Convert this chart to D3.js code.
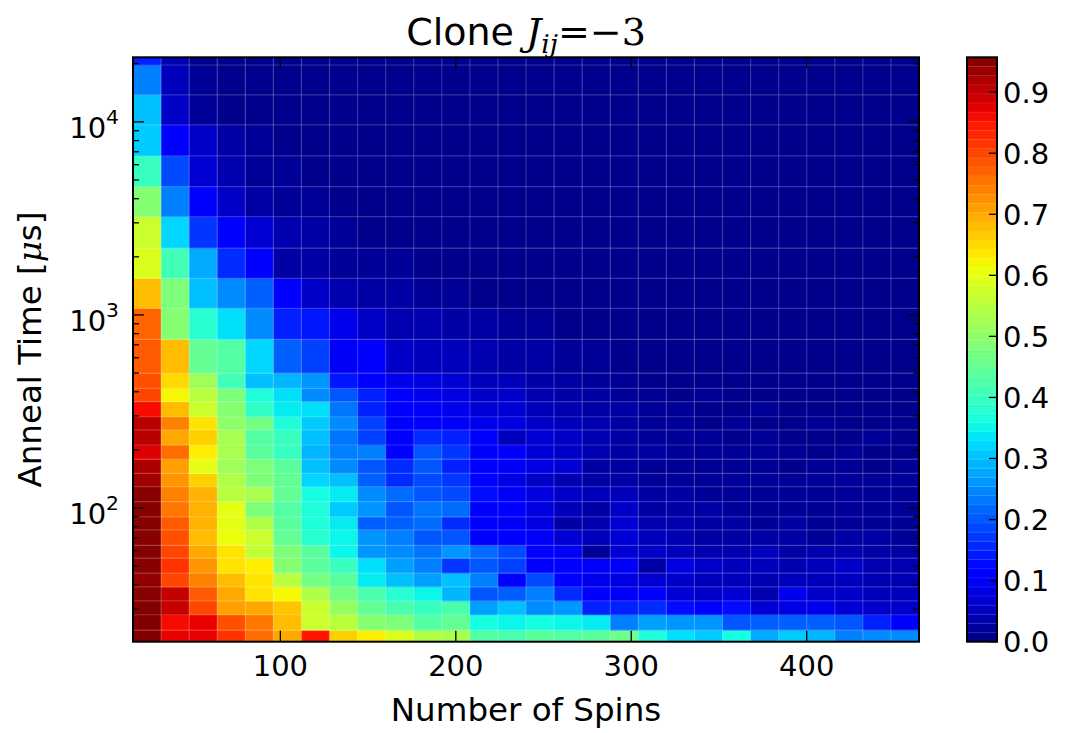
<!DOCTYPE html>
<html>
<head>
<meta charset="utf-8">
<script src="https://cdn.jsdelivr.net/npm/d3@7"></script>
<style>
  body { margin: 0; background: #ffffff; }
  svg { display: block; }
  text { font-family: "DejaVu Sans", sans-serif; fill: #000; }
</style>
</head>
<body>
<svg id="chart" width="1066" height="733"></svg>
<script>
// Column centres: number of spins
const spins = [24, 40, 56, 72, 88, 104, 120, 136, 152, 168, 184, 200, 216, 232,
               248, 264, 280, 296, 312, 328, 344, 360, 376, 392, 408, 424, 440, 456];

// Row boundaries: anneal time in microseconds (bottom to top)
const annealEdges = [20.3, 23.3, 28, 33, 39, 46, 55, 64, 77, 90, 108, 129, 151, 179,
                     212, 254, 297, 356, 417, 499, 748, 1083, 1549, 2218, 3227, 4625,
                     6670, 9640, 13800, 19700, 21600];

// Success fraction, one row per anneal-time band (bottom to top), one value per spin count
const fraction = [
  [0.955,0.87,0.87,0.82,0.76,0.70,0.85,0.66,0.63,0.59,0.54,0.53,0.43,0.42,0.44,0.43,0.44,0.46,0.37,0.33,0.31,0.36,0.28,0.31,0.29,0.24,0.25,0.25],
  [0.955,0.86,0.87,0.79,0.75,0.68,0.57,0.55,0.49,0.48,0.43,0.45,0.36,0.35,0.36,0.35,0.34,0.24,0.27,0.26,0.26,0.20,0.21,0.21,0.21,0.20,0.15,0.12],
  [0.955,0.90,0.80,0.71,0.70,0.67,0.57,0.51,0.45,0.42,0.40,0.42,0.27,0.30,0.25,0.26,0.15,0.15,0.16,0.13,0.12,0.13,0.07,0.08,0.09,0.07,0.06,0.06],
  [0.95,0.90,0.78,0.70,0.64,0.62,0.54,0.47,0.42,0.38,0.35,0.29,0.20,0.21,0.24,0.16,0.12,0.10,0.11,0.07,0.06,0.07,0.04,0.09,0.06,0.06,0.05,0.05],
  [0.94,0.80,0.74,0.68,0.64,0.55,0.47,0.44,0.34,0.30,0.27,0.30,0.24,0.12,0.19,0.12,0.09,0.08,0.07,0.06,0.05,0.05,0.04,0.05,0.05,0.05,0.04,0.04],
  [0.95,0.82,0.72,0.64,0.63,0.49,0.44,0.40,0.33,0.27,0.24,0.17,0.20,0.18,0.12,0.12,0.10,0.10,0.03,0.08,0.06,0.05,0.05,0.04,0.05,0.06,0.04,0.04],
  [0.955,0.80,0.70,0.64,0.56,0.48,0.44,0.35,0.26,0.25,0.23,0.26,0.22,0.19,0.12,0.10,0.02,0.07,0.06,0.05,0.04,0.04,0.05,0.03,0.04,0.04,0.03,0.03],
  [0.95,0.79,0.68,0.61,0.57,0.45,0.38,0.35,0.26,0.24,0.20,0.20,0.12,0.12,0.10,0.07,0.05,0.07,0.05,0.04,0.03,0.03,0.03,0.03,0.02,0.03,0.03,0.02],
  [0.95,0.78,0.69,0.60,0.54,0.44,0.37,0.34,0.21,0.21,0.22,0.16,0.12,0.10,0.08,0.03,0.04,0.07,0.04,0.04,0.03,0.03,0.02,0.03,0.02,0.02,0.02,0.02],
  [0.95,0.75,0.69,0.60,0.48,0.43,0.37,0.31,0.26,0.20,0.23,0.22,0.12,0.12,0.08,0.05,0.03,0.06,0.03,0.03,0.03,0.02,0.02,0.02,0.02,0.02,0.02,0.02],
  [0.95,0.74,0.69,0.55,0.53,0.45,0.36,0.34,0.25,0.22,0.20,0.19,0.13,0.10,0.08,0.06,0.05,0.05,0.03,0.03,0.02,0.02,0.02,0.02,0.02,0.02,0.02,0.02],
  [0.93,0.72,0.66,0.54,0.48,0.45,0.32,0.30,0.21,0.16,0.19,0.17,0.12,0.08,0.06,0.04,0.03,0.03,0.02,0.02,0.02,0.02,0.02,0.02,0.02,0.02,0.02,0.02],
  [0.92,0.71,0.60,0.52,0.48,0.44,0.30,0.25,0.20,0.16,0.20,0.15,0.11,0.10,0.08,0.07,0.03,0.03,0.02,0.02,0.02,0.02,0.02,0.01,0.02,0.02,0.01,0.02],
  [0.88,0.76,0.63,0.53,0.44,0.40,0.29,0.24,0.24,0.12,0.20,0.17,0.11,0.12,0.07,0.06,0.04,0.03,0.03,0.02,0.02,0.02,0.02,0.02,0.01,0.02,0.01,0.01],
  [0.91,0.70,0.66,0.53,0.43,0.40,0.30,0.23,0.18,0.12,0.16,0.15,0.12,0.05,0.07,0.06,0.04,0.03,0.02,0.02,0.02,0.01,0.02,0.01,0.01,0.01,0.02,0.01],
  [0.91,0.74,0.64,0.50,0.47,0.37,0.31,0.25,0.18,0.12,0.12,0.10,0.09,0.08,0.06,0.05,0.04,0.03,0.02,0.02,0.01,0.02,0.01,0.01,0.02,0.01,0.01,0.01],
  [0.86,0.68,0.57,0.49,0.39,0.34,0.33,0.23,0.15,0.12,0.10,0.09,0.07,0.07,0.05,0.04,0.03,0.03,0.02,0.02,0.01,0.01,0.02,0.01,0.01,0.01,0.01,0.01],
  [0.80,0.62,0.55,0.48,0.37,0.33,0.25,0.20,0.15,0.12,0.09,0.08,0.06,0.06,0.04,0.03,0.03,0.02,0.02,0.01,0.02,0.01,0.01,0.01,0.01,0.01,0.01,0.01],
  [0.79,0.65,0.52,0.41,0.30,0.29,0.26,0.14,0.12,0.09,0.08,0.07,0.05,0.05,0.03,0.03,0.02,0.02,0.01,0.01,0.01,0.01,0.01,0.01,0.01,0.01,0.01,0.01],
  [0.78,0.68,0.45,0.43,0.32,0.21,0.18,0.10,0.11,0.06,0.05,0.05,0.04,0.03,0.03,0.02,0.02,0.01,0.01,0.01,0.01,0.01,0.01,0.01,0.01,0.01,0.01,0.01],
  [0.77,0.49,0.38,0.33,0.25,0.15,0.14,0.09,0.06,0.04,0.04,0.03,0.03,0.02,0.02,0.01,0.01,0.01,0.01,0.01,0.01,0.01,0.01,0.01,0.01,0.01,0.01,0.01],
  [0.68,0.48,0.30,0.25,0.21,0.11,0.06,0.04,0.03,0.03,0.02,0.02,0.01,0.01,0.01,0.01,0.01,0.01,0.01,0.01,0.01,0.01,0.01,0.01,0.01,0.01,0.01,0.01],
  [0.59,0.41,0.28,0.16,0.12,0.03,0.03,0.02,0.02,0.02,0.01,0.01,0.01,0.01,0.01,0.01,0.01,0.01,0.01,0.01,0.01,0.01,0.01,0.01,0.01,0.01,0.01,0.01],
  [0.57,0.32,0.17,0.12,0.07,0.04,0.03,0.02,0.01,0.01,0.01,0.01,0.01,0.01,0.01,0.01,0.01,0.01,0.01,0.01,0.01,0.01,0.01,0.01,0.01,0.01,0.01,0.01],
  [0.49,0.24,0.12,0.06,0.03,0.02,0.02,0.01,0.01,0.01,0.01,0.01,0.01,0.01,0.01,0.01,0.01,0.01,0.01,0.01,0.01,0.01,0.01,0.01,0.01,0.01,0.01,0.01],
  [0.40,0.19,0.07,0.04,0.02,0.02,0.01,0.01,0.01,0.01,0.01,0.01,0.01,0.01,0.01,0.01,0.01,0.01,0.01,0.01,0.01,0.01,0.01,0.01,0.01,0.01,0.01,0.01],
  [0.31,0.11,0.06,0.03,0.02,0.01,0.01,0.01,0.01,0.01,0.01,0.01,0.01,0.01,0.01,0.01,0.01,0.01,0.01,0.01,0.01,0.01,0.01,0.01,0.01,0.01,0.01,0.01],
  [0.30,0.06,0.02,0.01,0.01,0.01,0.01,0.01,0.01,0.01,0.01,0.01,0.01,0.01,0.01,0.01,0.01,0.01,0.01,0.01,0.01,0.01,0.01,0.01,0.01,0.01,0.01,0.01],
  [0.24,0.05,0.02,0.01,0.01,0.01,0.01,0.01,0.01,0.01,0.01,0.01,0.01,0.01,0.01,0.01,0.01,0.01,0.01,0.01,0.01,0.01,0.01,0.01,0.01,0.01,0.01,0.01],
  [0.15,0.04,0.01,0.01,0.01,0.01,0.01,0.01,0.01,0.01,0.01,0.01,0.01,0.01,0.01,0.01,0.01,0.01,0.01,0.01,0.01,0.01,0.01,0.01,0.01,0.01,0.01,0.01]
];

const xTicks = [100, 200, 300, 400];
const yMajorTicks = [100, 1000, 10000];
const colorbarTicks = [0.0, 0.1, 0.2, 0.3, 0.4, 0.5, 0.6, 0.7, 0.8, 0.9];
const colorMax = 0.957;

// ---- layout ----
const plot = { left: 133, right: 919, top: 57.3, bottom: 641.7 };
const bar = { left: 967, right: 997 };
const tickFont = 29, labelFont = 32.5, titleFont = 38;

const svg = d3.select("#chart");

// cell edges along the spin axis (midpoints between neighbouring centres)
const spinEdges = spins.map((s, i) => i === 0 ? s - (spins[1] - spins[0]) / 2 : (spins[i - 1] + s) / 2);
spinEdges.push(spins[spins.length - 1] + (spins[spins.length - 1] - spins[spins.length - 2]) / 2);

const x = d3.scaleLinear().domain([spinEdges[0], spinEdges[spinEdges.length - 1]]).range([plot.left, plot.right]);
const y = d3.scaleLog().domain([annealEdges[0], annealEdges[annealEdges.length - 1]]).range([plot.bottom, plot.top]);

// jet colour map
const jetR = d3.scaleLinear().domain([0, 0.35, 0.66, 0.89, 1]).range([0, 0, 1, 1, 0.5]).clamp(true);
const jetG = d3.scaleLinear().domain([0, 0.125, 0.375, 0.64, 0.91, 1]).range([0, 0, 1, 1, 0, 0]).clamp(true);
const jetB = d3.scaleLinear().domain([0, 0.11, 0.34, 0.65, 1]).range([0.5, 1, 1, 0, 0]).clamp(true);
const norm = d3.scaleLinear().domain([0, colorMax]).range([0, 1]).clamp(true);
const jet = v => { const t = norm(v); return d3.rgb(jetR(t) * 255, jetG(t) * 255, jetB(t) * 255).toString(); };

// ---- heat map cells ----
svg.append("clipPath").attr("id", "plotClip")
  .append("rect").attr("x", plot.left).attr("y", plot.top)
  .attr("width", plot.right - plot.left).attr("height", plot.bottom - plot.top);

const cells = [];
fraction.forEach((row, r) => row.forEach((v, c) => cells.push({ r, c, v })));

const gCells = svg.append("g").attr("clip-path", "url(#plotClip)");
gCells.selectAll("rect").data(cells).join("rect")
  .attr("x", d => x(spinEdges[d.c]))
  .attr("width", d => x(spinEdges[d.c + 1]) - x(spinEdges[d.c]) + 0.4)
  .attr("y", d => y(annealEdges[d.r + 1]))
  .attr("height", d => y(annealEdges[d.r]) - y(annealEdges[d.r + 1]) + 0.4)
  .attr("fill", d => jet(d.v));

// faint cell boundaries
const gEdges = svg.append("g").attr("clip-path", "url(#plotClip)")
  .attr("stroke", "#ffffff").attr("stroke-opacity", 0.2).attr("stroke-width", 1.2);
gEdges.selectAll("line.v").data(spinEdges.slice(1, -1)).join("line").attr("class", "v")
  .attr("x1", d => x(d)).attr("x2", d => x(d)).attr("y1", plot.top).attr("y2", plot.bottom);
gEdges.selectAll("line.h").data(annealEdges.slice(1, -1)).join("line").attr("class", "h")
  .attr("y1", d => y(d)).attr("y2", d => y(d)).attr("x1", plot.left).attr("x2", plot.right);

// ---- axes (ticks pointing inward on all four sides) ----
const majLen = 11, minLen = 6;
const gTicks = svg.append("g").attr("stroke", "#000").attr("stroke-width", 1.3);

xTicks.forEach(t => {
  gTicks.append("line").attr("x1", x(t)).attr("x2", x(t)).attr("y1", plot.bottom).attr("y2", plot.bottom - majLen);
  gTicks.append("line").attr("x1", x(t)).attr("x2", x(t)).attr("y1", plot.top).attr("y2", plot.top + majLen);
});

const yMinor = [];
[10, 100, 1000, 10000].forEach(dec => {
  for (let m = 2; m <= 9; m++) {
    const v = dec * m;
    if (v > y.domain()[0] && v < y.domain()[1]) yMinor.push(v);
  }
});
yMajorTicks.forEach(t => {
  gTicks.append("line").attr("x1", plot.left).attr("x2", plot.left + majLen).attr("y1", y(t)).attr("y2", y(t));
  gTicks.append("line").attr("x1", plot.right).attr("x2", plot.right - majLen).attr("y1", y(t)).attr("y2", y(t));
});
yMinor.forEach(t => {
  gTicks.append("line").attr("x1", plot.left).attr("x2", plot.left + minLen).attr("y1", y(t)).attr("y2", y(t));
  gTicks.append("line").attr("x1", plot.right).attr("x2", plot.right - minLen).attr("y1", y(t)).attr("y2", y(t));
});

svg.append("rect")
  .attr("x", plot.left).attr("y", plot.top)
  .attr("width", plot.right - plot.left).attr("height", plot.bottom - plot.top)
  .attr("fill", "none").attr("stroke", "#000").attr("stroke-width", 2);

// tick labels
svg.append("g").selectAll("text").data(xTicks).join("text")
  .attr("x", d => x(d)).attr("y", plot.bottom + 34)
  .attr("text-anchor", "middle").attr("font-size", tickFont)
  .text(d => d);

const yLab = svg.append("g").selectAll("text").data(yMajorTicks).join("text")
  .attr("x", plot.left - 14).attr("y", d => y(d) + 16)
  .attr("text-anchor", "end").attr("font-size", tickFont);
yLab.append("tspan").text("10");
yLab.append("tspan").attr("font-size", tickFont * 0.7).attr("dy", -14)
  .text(d => Math.round(Math.log10(d)));

// axis titles
svg.append("text")
  .attr("x", (plot.left + plot.right) / 2).attr("y", 721)
  .attr("text-anchor", "middle").attr("font-size", labelFont)
  .text("Number of Spins");

const yTitle = svg.append("text")
  .attr("transform", `translate(41,${(plot.top + plot.bottom) / 2}) rotate(-90)`)
  .attr("text-anchor", "middle").attr("font-size", labelFont);
yTitle.append("tspan").text("Anneal Time [");
yTitle.append("tspan").attr("font-family", "DejaVu Serif").attr("font-style", "italic").text("\u03bc");
yTitle.append("tspan").text("s]");

// title
const title = svg.append("text")
  .attr("x", (plot.left + plot.right) / 2).attr("y", 45)
  .attr("text-anchor", "middle").attr("font-size", titleFont);
title.append("tspan").text("Clone ");
title.append("tspan").attr("font-family", "DejaVu Serif").attr("font-style", "italic").text("J");
title.append("tspan").attr("font-family", "DejaVu Serif").attr("font-style", "italic")
  .attr("font-size", titleFont * 0.7).attr("dy", 8).text("ij");
title.append("tspan").attr("font-family", "DejaVu Serif").attr("dy", -8).text("=\u22123");

// ---- colour bar ----
const cy = d3.scaleLinear().domain([0, colorMax]).range([plot.bottom, plot.top]);
const nBands = 64;
const bands = d3.range(nBands).map(i => ({ lo: colorMax * i / nBands, hi: colorMax * (i + 1) / nBands }));
svg.append("g").selectAll("rect").data(bands).join("rect")
  .attr("x", bar.left).attr("width", bar.right - bar.left)
  .attr("y", d => cy(d.hi)).attr("height", d => cy(d.lo) - cy(d.hi) + 0.3)
  .attr("fill", d => jet((d.lo + d.hi) / 2));
svg.append("g").attr("stroke", "#ffffff").attr("stroke-opacity", 0.12).attr("stroke-width", 0.8)
  .selectAll("line").data(bands.slice(1)).join("line")
  .attr("x1", bar.left).attr("x2", bar.right).attr("y1", d => cy(d.lo)).attr("y2", d => cy(d.lo));

svg.append("g").attr("stroke", "#000").attr("stroke-width", 1.3)
  .selectAll("line").data(colorbarTicks).join("line")
  .attr("x1", bar.right).attr("x2", bar.right - 8)
  .attr("y1", d => cy(d)).attr("y2", d => cy(d));

svg.append("rect")
  .attr("x", bar.left).attr("y", plot.top)
  .attr("width", bar.right - bar.left).attr("height", plot.bottom - plot.top)
  .attr("fill", "none").attr("stroke", "#000").attr("stroke-width", 2);

svg.append("g").selectAll("text").data(colorbarTicks).join("text")
  .attr("x", bar.right + 6).attr("y", d => cy(d) + 10.5)
  .attr("font-size", tickFont)
  .text(d => d.toFixed(1));
</script>
</body>
</html>
